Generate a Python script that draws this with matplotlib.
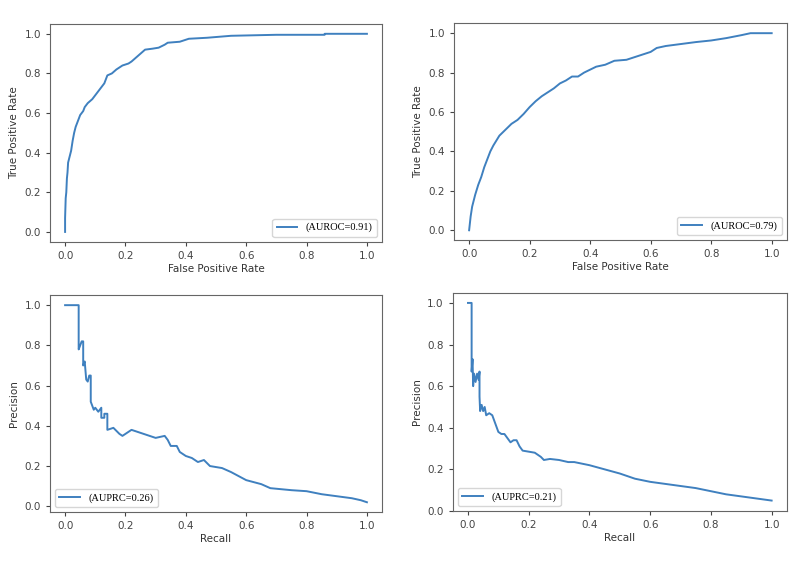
import matplotlib

matplotlib.use("Agg")
import matplotlib.pyplot as plt

# ROC, left model (AUROC 0.91)
roc1_fpr = [0.0, 0.0, 0.002, 0.004, 0.006, 0.008, 0.01, 0.015, 0.02, 0.025, 0.03, 0.035,
            0.04, 0.05, 0.06, 0.065, 0.075, 0.09, 0.105, 0.12, 0.13, 0.14, 0.155, 0.17,
            0.19, 0.21, 0.22, 0.235, 0.25, 0.265, 0.29, 0.31, 0.33, 0.34, 0.38, 0.41,
            0.47, 0.55, 0.7, 0.86, 0.86, 1.0]
roc1_tpr = [0.0, 0.07, 0.17, 0.2, 0.27, 0.3, 0.35, 0.38, 0.41, 0.46, 0.5, 0.53,
            0.55, 0.59, 0.61, 0.63, 0.65, 0.67, 0.70, 0.73, 0.75, 0.79, 0.80, 0.82,
            0.84, 0.85, 0.86, 0.88, 0.90, 0.92, 0.925, 0.93, 0.945, 0.955, 0.96, 0.975,
            0.98, 0.99, 0.995, 0.995, 1.0, 1.0]

# ROC, right model (AUROC 0.79)
roc2_fpr = [0.0, 0.005, 0.01, 0.02, 0.03, 0.04, 0.05, 0.06, 0.07, 0.08, 0.09, 0.1,
            0.12, 0.14, 0.16, 0.18, 0.2, 0.22, 0.24, 0.26, 0.28, 0.3, 0.32, 0.34,
            0.36, 0.38, 0.4, 0.42, 0.45, 0.48, 0.52, 0.55, 0.58, 0.6, 0.62, 0.65,
            0.7, 0.75, 0.8, 0.85, 0.9, 0.93, 1.0]
roc2_tpr = [0.0, 0.07, 0.12, 0.18, 0.23, 0.27, 0.32, 0.36, 0.40, 0.43, 0.455, 0.48,
            0.51, 0.54, 0.56, 0.59, 0.625, 0.655, 0.68, 0.70, 0.72, 0.745, 0.76, 0.78,
            0.78, 0.80, 0.815, 0.83, 0.84, 0.86, 0.865, 0.88, 0.895, 0.905, 0.925, 0.935,
            0.945, 0.955, 0.963, 0.975, 0.99, 1.0, 1.0]

# Precision-recall, left model (AUPRC 0.26)
pr1_recall = [0.0, 0.045, 0.045, 0.05, 0.055, 0.06, 0.06, 0.065, 0.07, 0.075, 0.08, 0.085,
              0.085, 0.09, 0.095, 0.1, 0.11, 0.12, 0.12, 0.13, 0.13, 0.14, 0.14, 0.16,
              0.18, 0.19, 0.2, 0.22, 0.24, 0.26, 0.28, 0.3, 0.33, 0.34, 0.35, 0.37,
              0.38, 0.4, 0.42, 0.44, 0.46, 0.48, 0.52, 0.55, 0.6, 0.65, 0.68, 0.75,
              0.8, 0.85, 0.9, 0.95, 0.98, 1.0]
pr1_precision = [1.0, 1.0, 0.78, 0.80, 0.82, 0.82, 0.70, 0.72, 0.63, 0.62, 0.65, 0.65,
                 0.52, 0.50, 0.48, 0.49, 0.47, 0.49, 0.44, 0.44, 0.46, 0.46, 0.38, 0.39,
                 0.36, 0.35, 0.36, 0.38, 0.37, 0.36, 0.35, 0.34, 0.35, 0.33, 0.30, 0.30,
                 0.27, 0.25, 0.24, 0.22, 0.23, 0.20, 0.19, 0.17, 0.13, 0.11, 0.09, 0.08,
                 0.075, 0.06, 0.05, 0.04, 0.03, 0.02]

# Precision-recall, right model (AUPRC 0.21)
pr2_recall = [0.0, 0.012, 0.012, 0.015, 0.017, 0.02, 0.025, 0.03, 0.035, 0.038, 0.038, 0.04,
              0.045, 0.05, 0.055, 0.06, 0.07, 0.08, 0.09, 0.1, 0.11, 0.12, 0.13, 0.14,
              0.15, 0.16, 0.17, 0.18, 0.2, 0.22, 0.24, 0.25, 0.27, 0.3, 0.33, 0.35,
              0.4, 0.45, 0.5, 0.55, 0.6, 0.65, 0.7, 0.75, 0.8, 0.85, 0.9, 0.95, 1.0]
pr2_precision = [1.0, 1.0, 0.67, 0.73, 0.60, 0.66, 0.62, 0.66, 0.63, 0.67, 0.55, 0.48,
                 0.51, 0.48, 0.50, 0.46, 0.47, 0.46, 0.42, 0.38, 0.37, 0.37, 0.35, 0.33,
                 0.34, 0.34, 0.31, 0.29, 0.285, 0.28, 0.26, 0.245, 0.25, 0.245, 0.235, 0.235,
                 0.22, 0.20, 0.18, 0.155, 0.14, 0.13, 0.12, 0.11, 0.095, 0.08, 0.07, 0.06, 0.05]

LINE = "#3f80bf"

fig = plt.figure(figsize=(8.0, 5.69), dpi=100)
axes = [
    fig.add_axes([0.0625, 0.575, 0.415, 0.383]),
    fig.add_axes([0.5675, 0.578, 0.416, 0.381]),
    fig.add_axes([0.0625, 0.100, 0.415, 0.381]),
    fig.add_axes([0.566, 0.102, 0.4175, 0.383]),
]

panels = [
    (roc1_fpr, roc1_tpr, "(AUROC=0.91)", "False Positive Rate", "True Positive Rate", "lower right"),
    (roc2_fpr, roc2_tpr, "(AUROC=0.79)", "False Positive Rate", "True Positive Rate", "lower right"),
    (pr1_recall, pr1_precision, "(AUPRC=0.26)", "Recall", "Precision", "lower left"),
    (pr2_recall, pr2_precision, "(AUPRC=0.21)", "Recall", "Precision", "lower left"),
]

for ax, (xs, ys, label, xlabel, ylabel, loc) in zip(axes, panels):
    ax.plot(xs, ys, color=LINE, linewidth=1.4, label=label)
    ax.set_xticks([0.0, 0.2, 0.4, 0.6, 0.8, 1.0])
    ax.set_yticks([0.0, 0.2, 0.4, 0.6, 0.8, 1.0])
    ax.tick_params(labelsize=7.5, colors="#444444", length=3)
    ax.set_xlabel(xlabel, fontsize=7.5, color="#333333", labelpad=2)
    ax.set_ylabel(ylabel, fontsize=7.5, color="#333333", labelpad=4)
    for spine in ax.spines.values():
        spine.set_color("#666666")
    leg = ax.legend(loc=loc, prop={"family": "Liberation Serif", "size": 7.5})
    leg.get_frame().set_edgecolor("#cccccc")

fig.savefig("out.png", dpi=100)
